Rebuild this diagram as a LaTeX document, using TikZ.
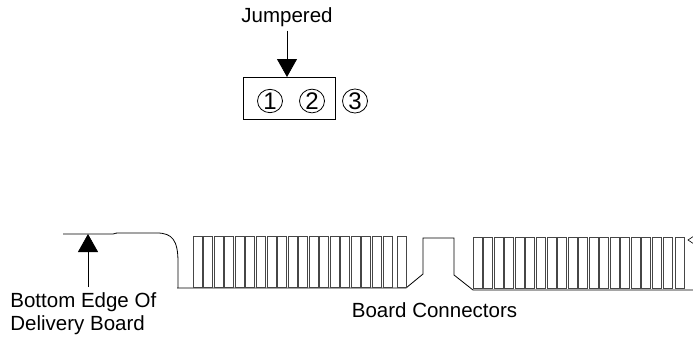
\documentclass[tikz,border=0pt]{standalone}
\usepackage{fontspec}
\setmainfont{Liberation Sans}
\definecolor{fingergray}{RGB}{70, 70, 70}
\usetikzlibrary{shapes.geometric, arrows.meta, positioning, calc}

\begin{document}
\begin{tikzpicture}[x=1pt, y=-1pt, line width=0.8pt,
  lbl/.style={font=\fontsize{20.5}{23}\selectfont, inner sep=0pt},
  pin/.style={draw, ellipse, minimum width=25pt, minimum height=22pt, inner sep=0pt, font=\fontsize{24}{24}\selectfont},
  finger/.style={draw=fingergray, line width=0.7pt},
  bigtip/.style={-{Triangle[width=20pt, length=18pt]}}]
  \useasboundingbox (0, 0) rectangle (693, 338);

  \node[lbl, anchor=base] (jump) at (287, 22) {Jumpered};
  \draw (243, 77) rectangle (335, 119);
  \coordinate (jbox) at (287, 77);
  \node[pin] (p1) at (270, 101) {1};
  \node[pin] (p2) at (312, 101) {2};
  \node[pin] (p3) at (355, 101) {3};
  \draw[bigtip] ([yshift=-4pt]jump.south) -- (jbox);

  \draw (63, 234) -- (113, 234) .. controls (115, 233) and (117, 233) .. (121, 233) -- (157, 233)
    .. controls (172, 233) and (178, 240) .. (178, 262) -- (178, 288);
  \draw (177, 288) -- (406, 288) -- (423, 274) -- (423, 238) -- (454, 238) -- (454, 275)
    -- (473, 290) -- (693, 290);

  \foreach \i in {0,...,18}
    \draw[finger] ({193 + 10.55*\i}, 236) rectangle ++(9, 51);
  \draw[finger] (397, 236) rectangle ++(9, 51);
  \foreach \i in {0,...,18}
    \draw[finger] ({473 + 10.55*\i}, 237) rectangle ++(9, 51);
  \draw[finger] (675, 237) rectangle ++(9, 51);
  \draw[line width=0.6pt] (694, 236) -- (688, 240) -- (694, 244);

  \node[lbl, anchor=base west, align=left] (edge) at (10, 330) {Bottom Edge Of\\Delivery Board};
  \coordinate (edgept) at (88, 234);
  \draw[bigtip] (88, 287) -- (edgept);

  \node[lbl, anchor=base] (conn) at (434.5, 317) {Board Connectors};
\end{tikzpicture}
\end{document}
